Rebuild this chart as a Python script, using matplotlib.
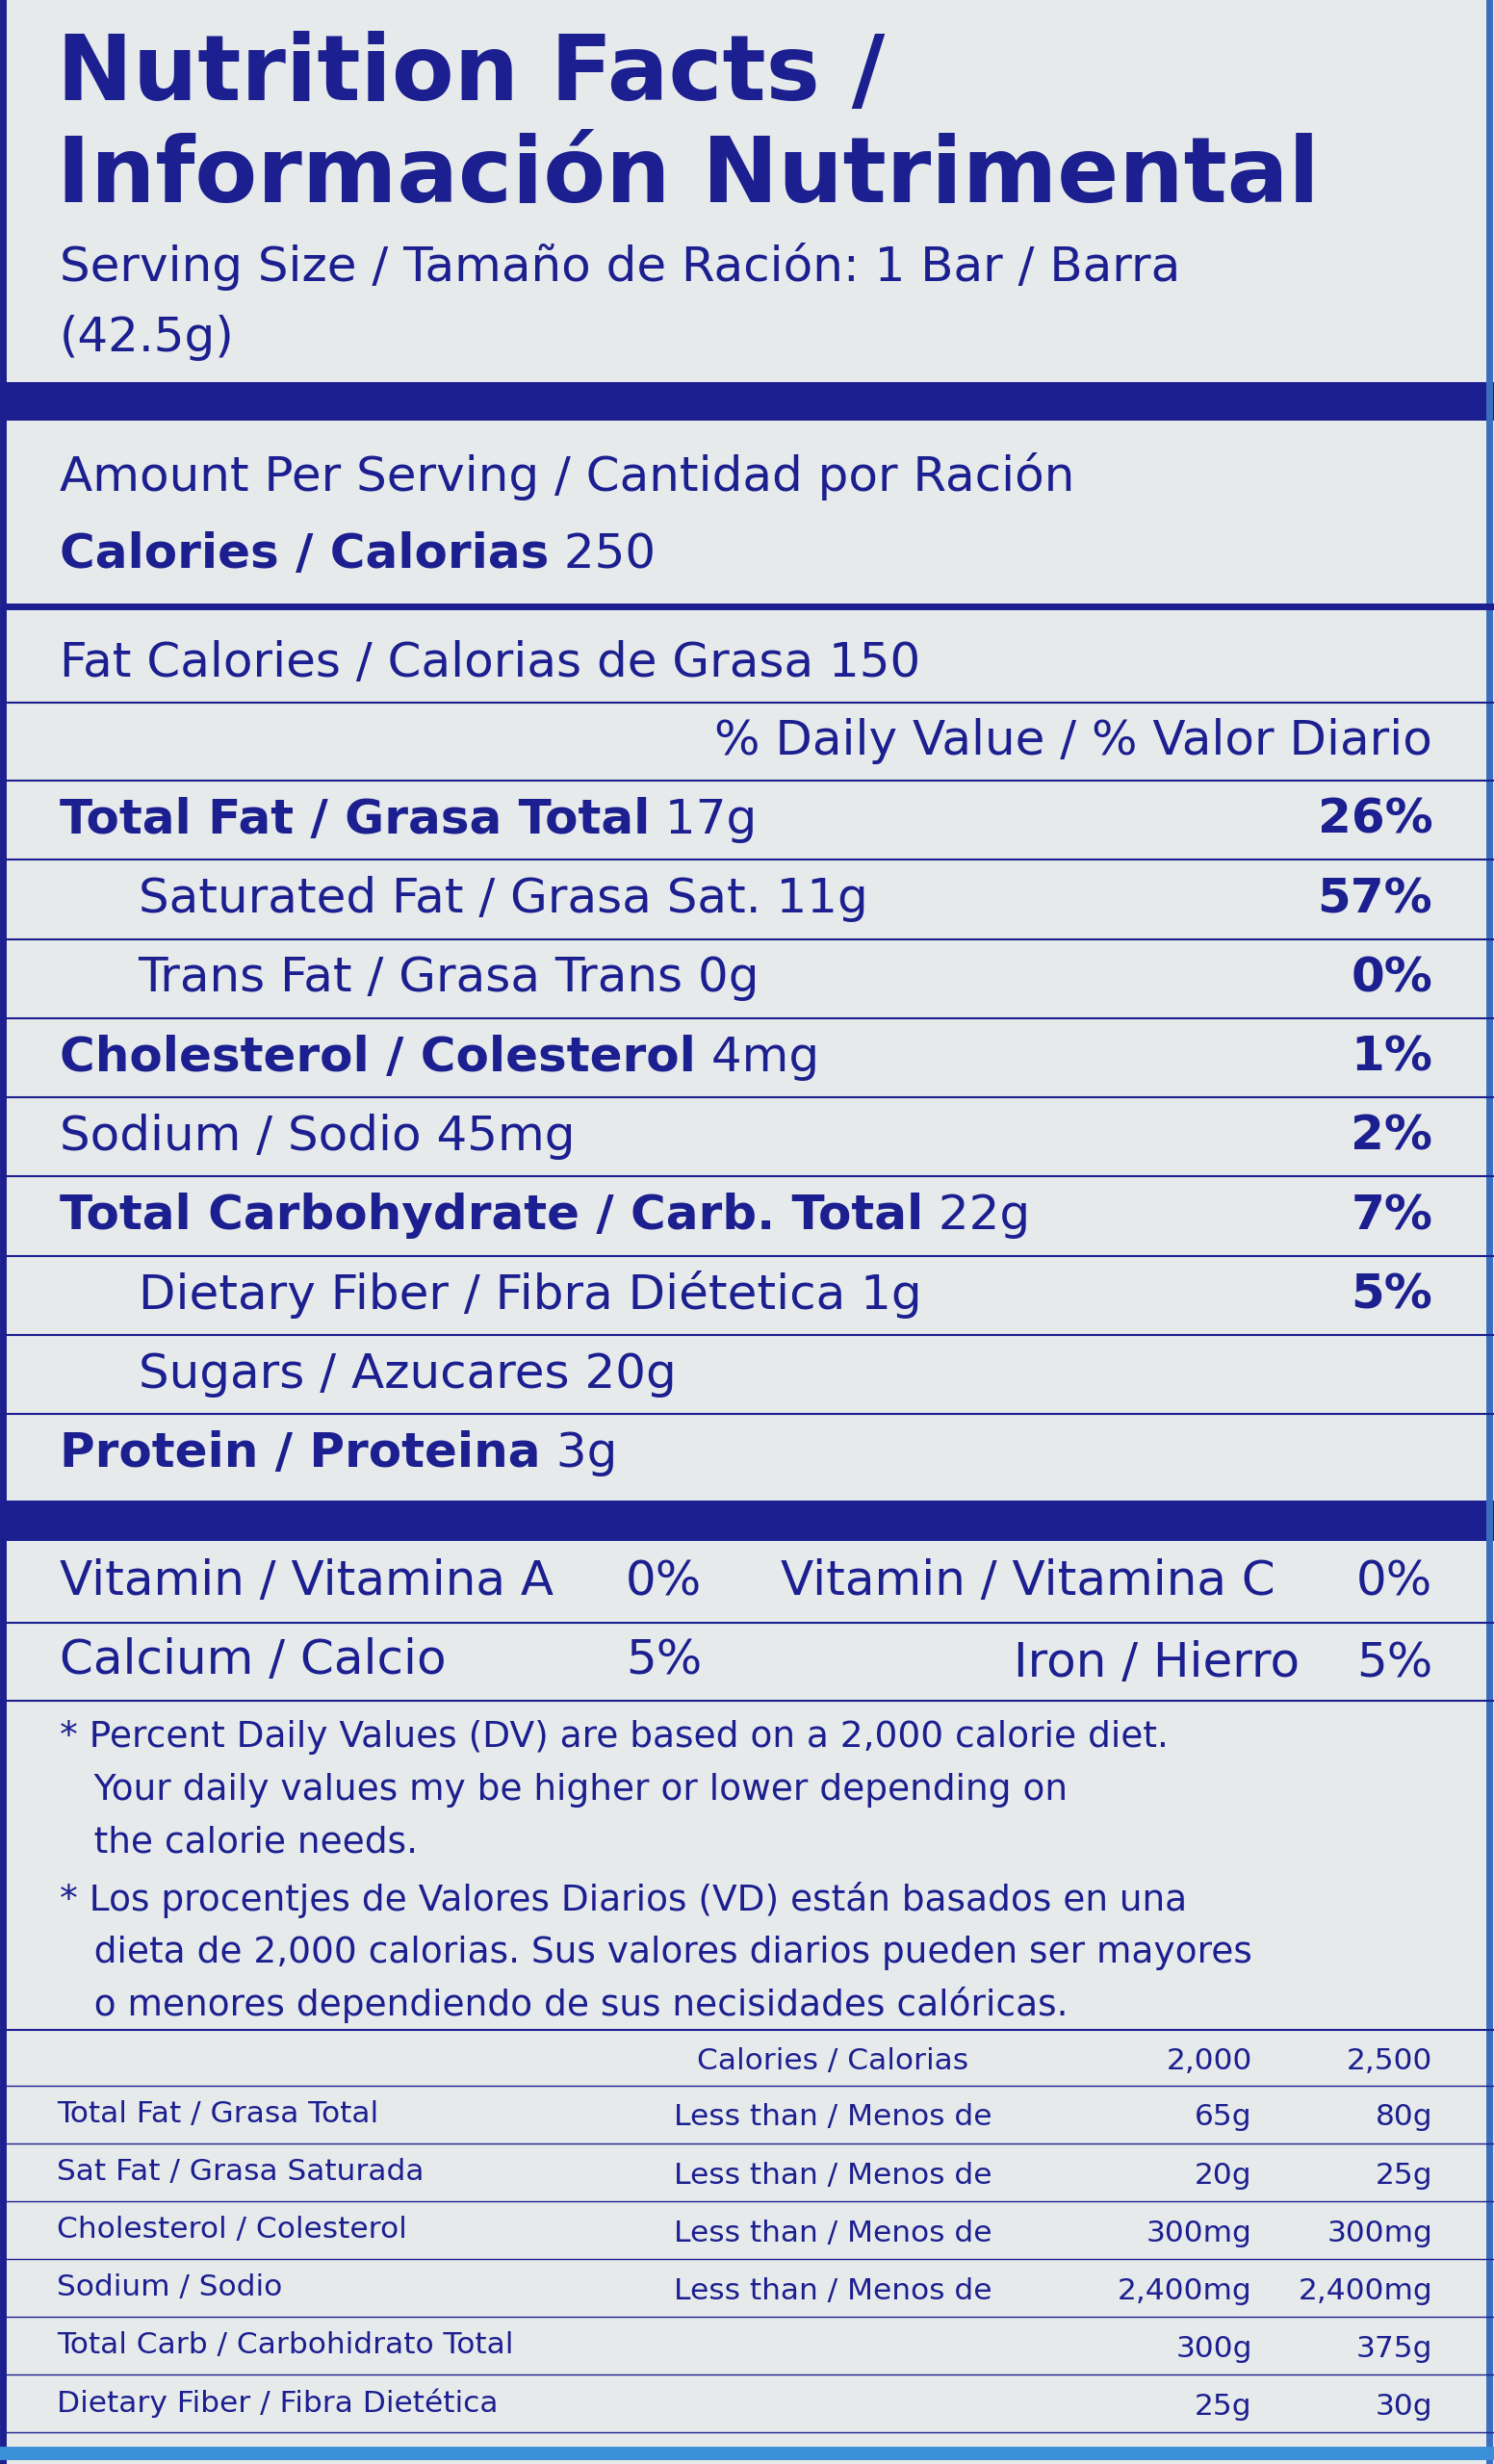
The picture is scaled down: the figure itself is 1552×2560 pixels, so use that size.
import matplotlib

matplotlib.use("Agg")
import matplotlib.pyplot as plt

BG, INK = "#e6eaea", "#1c1f8f"
FONT = "DejaVu Sans"

# label rows: bold part, regular part, % daily value, indented
ROW_BOLD = ["Total Fat / Grasa Total", "", "", "Cholesterol / Colesterol", "",
            "Total Carbohydrate / Carb. Total", "", "", "Protein / Proteina"]
ROW_REG = [" 17g", "Saturated Fat / Grasa Sat. 11g", "Trans Fat / Grasa Trans 0g", " 4mg",
           "Sodium / Sodio 45mg", " 22g", "Dietary Fiber / Fibra Diétetica 1g",
           "Sugars / Azucares 20g", " 3g"]
ROW_PCT = ["26%", "57%", "0%", "1%", "2%", "7%", "5%", "", ""]
ROW_INDENT = [0, 1, 1, 0, 0, 0, 1, 1, 0]

FOOT = ["* Percent Daily Values (DV) are based on a 2,000 calorie diet.",
        "   Your daily values my be higher or lower depending on",
        "   the calorie needs.",
        "* Los procentjes de Valores Diarios (VD) están basados en una",
        "   dieta de 2,000 calorias. Sus valores diarios pueden ser mayores",
        "   o menores dependiendo de sus necisidades calóricas."]

TBL_NAME = ["Total Fat / Grasa Total", "Sat Fat / Grasa Saturada", "Cholesterol / Colesterol",
            "Sodium / Sodio", "Total Carb / Carbohidrato Total", "Dietary Fiber / Fibra Dietética"]
TBL_COND = ["Less than / Menos de"] * 4 + ["", ""]
TBL_2000 = ["65g", "20g", "300mg", "2,400mg", "300g", "25g"]
TBL_2500 = ["80g", "25g", "300mg", "2,400mg", "375g", "30g"]

BODY, FOOTSZ, TBL = 36, 27, 22.5

fig = plt.figure(figsize=(15.52, 25.6), dpi=100, facecolor=BG)
ax = fig.add_axes([0, 0, 1, 1])
ax.set_xlim(0, 951)
ax.set_ylim(1568.6, 0)
ax.axis("off")
r = fig.canvas.get_renderer()


def put(x, y, s, size, bold=False, ha="left"):
    return ax.text(x, y, s, fontsize=size, color=INK, family=FONT, ha=ha, va="center",
                   fontweight="bold" if bold else "normal")


def pieces(x, y, bold, reg, size):
    if bold:
        t = put(x, y, bold, size, True)
        bb = t.get_window_extent(r).transformed(ax.transData.inverted())
        x = bb.x1
    if reg:
        put(x, y, reg, size)


def hline(y, lw, x0=0, x1=951):
    ax.plot([x0, x1], [y, y], color=INK, lw=lw, solid_capstyle="butt")


# borders
ax.plot([2, 2], [0, 1568], color=INK, lw=5)
ax.plot([948, 948], [0, 1568], color="#3a6fc0", lw=5)
ax.plot([0, 951], [1562, 1562], color="#3a8fd8", lw=10)

put(36, 48, "Nutrition Facts /", 68, True)
put(36, 113, "Información Nutrimental", 68, True)
put(38, 170, "Serving Size / Tamaño de Ración: 1 Bar / Barra", BODY)
put(38, 215, "(42.5g)", BODY)
ax.fill_between([0, 951], 243, 268, color=INK, lw=0)
put(38, 303, "Amount Per Serving / Cantidad por Ración", BODY)
pieces(38, 353, "Calories / Calorias", " 250", BODY)
hline(386, 5)
put(38, 422, "Fat Calories / Calorias de Grasa 150", BODY)
hline(447, 1.5)
put(912, 472, "% Daily Value / % Valor Diario", BODY, ha="right")
hline(497, 1.5)

y = 522
for b, g, p, ind in zip(ROW_BOLD, ROW_REG, ROW_PCT, ROW_INDENT):
    pieces(88 if ind else 38, y, b, g.strip() if not b else g, BODY)
    if p:
        put(912, y, p, BODY, True, ha="right")
    y += 50.4
    if y < 950:
        hline(y - 25, 1.5)
ax.fill_between([0, 951], 955, 981, color=INK, lw=0)

put(38, 1007, "Vitamin / Vitamina A", BODY)
put(447, 1007, "0%", BODY, ha="right")
put(497, 1007, "Vitamin / Vitamina C", BODY)
put(912, 1007, "0%", BODY, ha="right")
hline(1033, 1.5)
put(38, 1057, "Calcium / Calcio", BODY)
put(447, 1057, "5%", BODY, ha="right")
put(827, 1059, "Iron / Hierro", BODY, ha="right")
put(912, 1059, "5%", BODY, ha="right")
hline(1083, 1.5)

for i, s in enumerate(FOOT):
    put(38, 1106 + i * 33.5 + (3 if i >= 3 else 0), s, FOOTSZ)
hline(1292, 1.5)

put(530, 1312, "Calories / Calorias", TBL, ha="center")
put(797, 1312, "2,000", TBL, ha="right")
put(912, 1312, "2,500", TBL, ha="right")
hline(1328, 1)
for i in range(len(TBL_NAME)):
    yy = 1346 + i * 36.8
    put(36, yy, TBL_NAME[i], TBL)
    put(530, yy + 2, TBL_COND[i], TBL, ha="center")
    put(797, yy + 2, TBL_2000[i], TBL, ha="right")
    put(912, yy + 2, TBL_2500[i], TBL, ha="right")
    hline(yy + 18.5, 1)

fig.savefig("out.png", dpi=100, facecolor=BG)
